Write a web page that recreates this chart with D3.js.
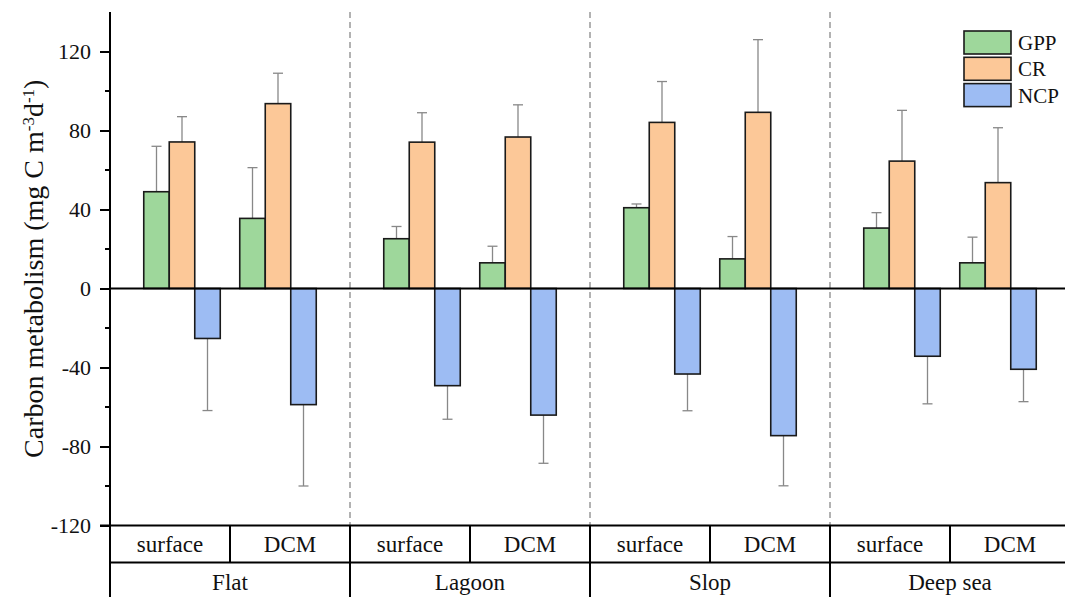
<!DOCTYPE html>
<html>
<head>
<meta charset="utf-8">
<script src="https://cdn.jsdelivr.net/npm/d3@7"></script>
<style>
  body { margin: 0; background: #fff; }
  text { font-family: "Liberation Serif", "Times New Roman", serif; fill: #111; }
</style>
</head>
<body>
<div id="chart"></div>
<script>
var w = 1065;
var h = 597;

// data
var sites = ["Flat", "Lagoon", "Slop", "Deep sea"];
var depths = ["surface", "DCM"];
var series = ["GPP", "CR", "NCP"];
var colors = ["#9ed79b", "#fcc898", "#9dbcf3"];

// means, order: Flat surface, Flat DCM, Lagoon surface, Lagoon DCM, Slop surface, Slop DCM, Deep sea surface, Deep sea DCM
var gppMean = [49.0, 35.5, 25.2, 13.0, 40.9, 15.0, 30.6, 13.0];
var gppSd   = [23.0, 25.7, 6.2, 8.4, 1.9, 11.3, 7.8, 13.0];
var crMean  = [74.2, 93.6, 74.1, 76.7, 84.1, 89.2, 64.5, 53.6];
var crSd    = [12.8, 15.4, 14.9, 16.3, 20.7, 36.8, 25.7, 27.8];
var ncpMean = [-25.3, -58.8, -49.2, -64.1, -43.3, -74.5, -34.3, -40.9];
var ncpSd   = [36.5, 41.2, 17.0, 24.4, 18.6, 25.4, 24.1, 16.4];

var yTicks = [-120, -80, -40, 0, 40, 80, 120];
var yMinor = [-100, -60, -20, 20, 60, 100];

var rows = [];
var means = [gppMean, crMean, ncpMean];
var sds = [gppSd, crSd, ncpSd];
sites.forEach(function(s, i) {
    depths.forEach(function(d, j) {
        series.forEach(function(k, n) {
            rows.push({site: s, depth: d, key: k, idx: n,
                       mean: means[n][i * 2 + j], sd: sds[n][i * 2 + j]});
        });
    });
});

var svg = d3.select("#chart").append("svg")
    .attr("width", w)
    .attr("height", h)
    .attr("font-family", "Liberation Serif, serif");

var padLeft = 110;
var padTop = 12;

var x0 = d3.scaleBand().domain(sites).range([padLeft, padLeft + 960]);
var bw = x0.bandwidth();
var xd = d3.scalePoint().domain(depths).range([0.3 * bw, 0.7 * bw]);
var xs = d3.scaleBand().domain(series).range([-38.25, 38.25]);
var xCell = d3.scaleBand().domain(depths).range([0, bw]);

var y = d3.scaleLinear().domain([-120, 140]).range([525.5, padTop]);

// dashed separators
svg.selectAll(".sep")
   .data(sites.slice(1))
   .enter()
   .append("line")
   .attr("x1", function(d) { return x0(d); })
   .attr("x2", function(d) { return x0(d); })
   .attr("y1", padTop)
   .attr("y2", y(-120))
   .attr("stroke", "#999")
   .attr("stroke-width", 1.5)
   .attr("stroke-dasharray", "6,4");

//error bars
function errEnd(d) { return y(d.mean + (d.mean < 0 ? -d.sd : d.sd)); }
var eb = svg.selectAll(".err")
    .data(rows)
    .enter()
    .append("g")
    .attr("transform", function(d) {
        return "translate(" + (x0(d.site) + xd(d.depth) + xs(d.key) + xs.bandwidth() / 2) + ",0)";
    });
eb.append("line")
  .attr("y1", function(d) { return y(d.mean); })
  .attr("y2", errEnd)
  .attr("stroke", "#888")
  .attr("stroke-width", 1.3);
eb.append("line")
  .attr("x1", -5).attr("x2", 5)
  .attr("y1", errEnd)
  .attr("y2", errEnd)
  .attr("stroke", "#888")
  .attr("stroke-width", 1.3);

//bars
svg.selectAll(".bar")
   .data(rows)
   .enter()
   .append("rect")
   .attr("x", function(d) { return x0(d.site) + xd(d.depth) + xs(d.key); })
   .attr("width", xs.bandwidth())
   .attr("y", function(d) { return y(Math.max(0, d.mean)); })
   .attr("height", function(d) { return Math.abs(y(d.mean) - y(0)); })
   .attr("fill", function(d) { return colors[d.idx]; })
   .attr("stroke", "#1a1a1a")
   .attr("stroke-width", 1.6);

// zero line
svg.append("line")
   .attr("x1", padLeft).attr("x2", w)
   .attr("y1", y(0)).attr("y2", y(0))
   .attr("stroke", "#000").attr("stroke-width", 2);

// y axis
var yAxis = d3.axisLeft(y).tickValues(yTicks).tickSize(10).tickPadding(9)
    .tickFormat(function(d) { return String(d); });
var gy = svg.append("g")
    .attr("transform", "translate(" + padLeft + ",0)")
    .call(yAxis);
gy.attr("font-family", null);
gy.select(".domain").remove();
gy.selectAll(".tick line").attr("stroke", "#000").attr("stroke-width", 2);
gy.selectAll(".tick text")
  .style("font-size", "22px")
  .attr("fill", "#111");
gy.selectAll(".minor")
  .data(yMinor)
  .enter()
  .append("line")
  .attr("x1", -5).attr("x2", 0)
  .attr("y1", function(d) { return y(d); })
  .attr("y2", function(d) { return y(d); })
  .attr("stroke", "#000").attr("stroke-width", 2);

svg.append("line")
   .attr("x1", padLeft).attr("x2", padLeft)
   .attr("y1", padTop).attr("y2", h)
   .attr("stroke", "#000").attr("stroke-width", 2);

// table under the axis
var rowY = [y(-120), 562.5, h];
svg.append("line")
   .attr("x1", 100).attr("x2", w)
   .attr("y1", rowY[0]).attr("y2", rowY[0])
   .attr("stroke", "#000").attr("stroke-width", 2);
svg.append("line")
   .attr("x1", padLeft).attr("x2", w)
   .attr("y1", rowY[1]).attr("y2", rowY[1])
   .attr("stroke", "#000").attr("stroke-width", 2);

sites.forEach(function(s) {
    svg.append("line")
       .attr("x1", x0(s) + xCell("DCM")).attr("x2", x0(s) + xCell("DCM"))
       .attr("y1", rowY[0]).attr("y2", rowY[1])
       .attr("stroke", "#000").attr("stroke-width", 2);
    svg.append("line")
       .attr("x1", x0(s) + bw).attr("x2", x0(s) + bw)
       .attr("y1", rowY[0]).attr("y2", rowY[2])
       .attr("stroke", "#000").attr("stroke-width", 2);
    depths.forEach(function(d) {
        svg.append("text")
           .attr("x", x0(s) + xCell(d) + xCell.bandwidth() / 2)
           .attr("y", 552)
           .attr("text-anchor", "middle")
           .style("font-size", "23px")
           .text(d);
    });
    svg.append("text")
       .attr("x", x0(s) + bw / 2)
       .attr("y", 590)
       .attr("text-anchor", "middle")
       .style("font-size", "23px")
       .text(s);
});

// y label
var yl = svg.append("text")
    .attr("transform", "translate(43," + ((padTop + y(-120)) / 2) + ") rotate(-90)")
    .attr("text-anchor", "middle")
    .style("font-size", "28px");
yl.append("tspan").text("Carbon metabolism (mg C m");
yl.append("tspan").attr("baseline-shift", "super").style("font-size", "17px").text("-3");
yl.append("tspan").text("d");
yl.append("tspan").attr("baseline-shift", "super").style("font-size", "17px").text("-1");
yl.append("tspan").text(")");

// legend
var lg = svg.append("g").attr("transform", "translate(964,31)");
series.forEach(function(k, i) {
    lg.append("rect")
      .attr("x", 0).attr("y", i * 26.3)
      .attr("width", 47).attr("height", 23)
      .attr("fill", colors[i])
      .attr("stroke", "#1a1a1a")
      .attr("stroke-width", 1.6);
    lg.append("text")
      .attr("x", 54).attr("y", i * 26.3 + 19)
      .style("font-size", "21px")
      .text(k);
});
</script>
</body>
</html>
